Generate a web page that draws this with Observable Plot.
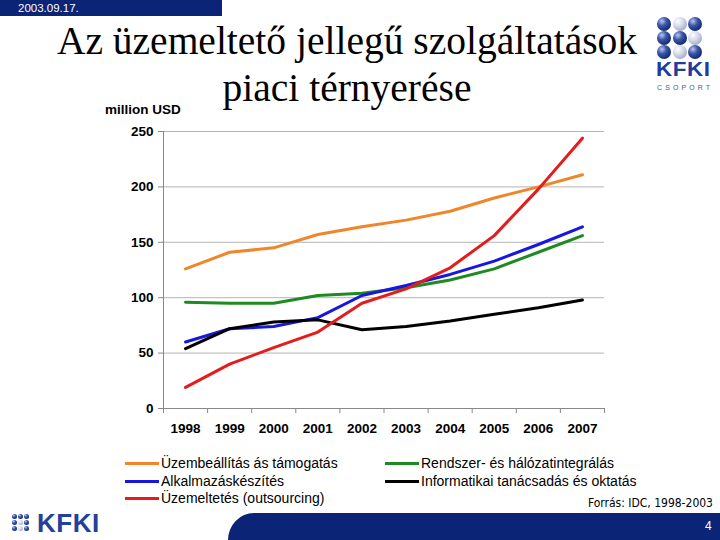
<!DOCTYPE html>
<html>
<head>
<meta charset="utf-8">
<script src="https://cdn.jsdelivr.net/npm/d3@7"></script>
<script src="https://cdn.jsdelivr.net/npm/@observablehq/plot@0.6"></script>
<style>
  html, body { margin: 0; padding: 0; background: #fff; }
  #root { position: relative; width: 720px; height: 540px; overflow: hidden; font-family: "Liberation Sans", Arial, sans-serif; }
  #root > * { position: absolute; }
  .sph { position: absolute; width: 14px; height: 14px; border-radius: 50%; }
  .dark { background: radial-gradient(circle at 35% 30%, #b8c6f0 0%, #3a55a8 35%, #142a70 75%, #0a1a4a 100%); }
  .light { background: radial-gradient(circle at 35% 30%, #ffffff 0%, #d4d8ea 40%, #a0a8c8 80%, #7d86ad 100%); }
  .sm { position: absolute; width: 5px; height: 5px; border-radius: 50%; }
  .leg { font-size: 14px; color: #000; white-space: nowrap; }
  .leg span.sw { display: inline-block; width: 34px; height: 3px; vertical-align: middle; margin-right: 2px; position: relative; top: -1px; }
</style>
</head>
<body>
<div id="root"></div>
<script>
// ---- data ----
const years = [1998, 1999, 2000, 2001, 2002, 2003, 2004, 2005, 2006, 2007];
const seriesNames = [
  "Üzembeállítás ás támogatás",
  "Rendszer- és hálózatintegrálás",
  "Alkalmazáskészítés",
  "Informatikai tanácsadás és oktatás",
  "Üzemeltetés (outsourcing)"
];
const seriesColors = ["#f0862a", "#1f8a22", "#1717e0", "#000000", "#e41c1c"];
const uzembeallitas = [126, 141, 145, 157, 164, 170, 178, 190, 200, 211];
const rendszer      = [96, 95, 95, 102, 104, 109, 116, 126, 141, 156];
const alkalmazas    = [60, 72, 74, 82, 102, 111, 121, 133, 148, 164];
const tanacsadas    = [54, 72, 78, 80, 71, 74, 79, 85, 91, 98];
const uzemeltetes   = [19, 40, 55, 69, 95, 108, 127, 156, 198, 244];
const yTicks = [0, 50, 100, 150, 200, 250];
const yUnit = "million USD";
const title1 = "Az üzemeltető jellegű szolgáltatások";
const title2 = "piaci térnyerése";
const dateText = "2003.09.17.";
const sourceText = "Forrás: IDC, 1998-2003";
const pageNo = "4";

const allSeries = [uzembeallitas, rendszer, alkalmazas, tanacsadas, uzemeltetes];
const data = [];
seriesNames.forEach((name, i) => {
  years.forEach((yr, j) => data.push({series: name, year: yr, value: allSeries[i][j]}));
});
const boundaries = years.map(y => y - 0.5).concat([years[years.length - 1] + 0.5]);

const root = document.getElementById("root");

const chart = Plot.plot({
  width: 720,
  height: 540,
  marginLeft: 163,
  marginRight: 116,
  marginTop: 131,
  marginBottom: 132,
  style: {fontFamily: "'Liberation Sans', Arial, sans-serif", fontSize: "13.5px", color: "#000", background: "transparent"},
  x: {domain: [boundaries[0], boundaries[boundaries.length - 1]]},
  y: {domain: [yTicks[0], yTicks[yTicks.length - 1]]},
  color: {domain: seriesNames, range: seriesColors},
  marks: [
    Plot.gridY(yTicks, {stroke: "#b4b4b4", strokeOpacity: 1, strokeWidth: 1}),
    Plot.axisY(yTicks, {tickSize: 5, tickPadding: 5, fontWeight: "bold", label: null, stroke: "#888", fill: "#000"}),
    Plot.axisX(boundaries, {tickSize: 5, tickFormat: () => "", label: null, stroke: "#888"}),
    Plot.axisX(years, {tickSize: 0, tickPadding: 15, tickFormat: d => String(d), fontWeight: "bold", label: null, fill: "#000"}),
    Plot.ruleX([boundaries[0]], {stroke: "#888"}),
    Plot.ruleY([yTicks[0]], {stroke: "#888"}),
    Plot.line(data, {x: "year", y: "value", z: "series", stroke: "series", strokeWidth: 3, strokeLinejoin: "round"})
  ]
});
chart.style.position = "absolute";
chart.style.left = "0px";
chart.style.top = "0px";
root.appendChild(chart);

function el(tag, css, text) {
  const e = document.createElement(tag);
  e.style.cssText = "position:absolute;" + css;
  if (text != null) e.textContent = text;
  root.appendChild(e);
  return e;
}

// header bar
el("div", "left:0;top:0;width:222px;height:16px;background:#0c2476;");
el("div", "left:18px;top:1px;font-size:11.5px;color:#fff;font-family:'Liberation Sans',Arial;line-height:14px;", dateText);

// title
el("div", "left:27px;top:18px;width:640px;text-align:center;font-family:'Liberation Serif','Times New Roman',serif;font-size:39.5px;line-height:47px;color:#000;white-space:nowrap;", title1);
el("div", "left:27px;top:65px;width:640px;text-align:center;font-family:'Liberation Serif','Times New Roman',serif;font-size:39.5px;line-height:47px;color:#000;white-space:nowrap;", title2);

// y unit label
el("div", "left:105px;top:102px;font-size:13.5px;font-weight:bold;color:#000;white-space:nowrap;", yUnit);

// top right logo
const pattern = ["dark","light","dark","dark","dark","light","dark","light","dark"];
pattern.forEach((p, i) => {
  const r = Math.floor(i / 3), c = i % 3;
  const d = el("div", "left:" + (657 + c * 15.5) + "px;top:" + (17 + r * 14) + "px;");
  d.className = "sph " + p;
});
el("div", "left:656px;top:59px;font-size:20px;font-weight:bold;color:#1f3c9c;letter-spacing:0.5px;line-height:20px;transform:scaleX(1.12);transform-origin:left top;", "KFKI");
el("div", "left:657px;top:84px;font-size:7px;color:#4a5a8a;letter-spacing:3.1px;line-height:8px;", "CSOPORT");

// legend
const legPos = [[125, 455], [385, 455], [125, 473], [385, 473], [125, 490]];
const legOrder = [0, 1, 2, 3, 4];
legOrder.forEach((k, i) => {
  const d = el("div", "left:" + legPos[i][0] + "px;top:" + legPos[i][1] + "px;line-height:17px;");
  d.className = "leg";
  const sw = document.createElement("span");
  sw.className = "sw";
  sw.style.background = seriesColors[k];
  d.appendChild(sw);
  d.appendChild(document.createTextNode(seriesNames[k]));
});

// source
el("div", "right:7px;top:496px;font-size:12px;font-family:'Liberation Sans Narrow','DejaVu Sans Condensed',Arial;color:#000;white-space:nowrap;", sourceText);

// bottom band
el("div", "left:228px;top:513px;width:492px;height:27px;background:#0c2476;border-top-left-radius:26px 27px;");
el("div", "left:705px;top:519px;font-size:12px;color:#fff;font-family:'Liberation Sans Narrow',Arial;", pageNo);

// bottom logo
const smallPattern = ["dark","dark","dark","dark","light","dark","dark","light","dark"];
smallPattern.forEach((p, i) => {
  const r = Math.floor(i / 3), c = i % 3;
  const d = el("div", "left:" + (12 + c * 6) + "px;top:" + (514 + r * 6) + "px;");
  d.className = "sm " + p;
});
el("div", "left:37px;top:508px;font-size:26px;font-weight:bold;color:#23409a;line-height:30px;letter-spacing:0.5px;", "KFKI");
</script>
</body>
</html>
